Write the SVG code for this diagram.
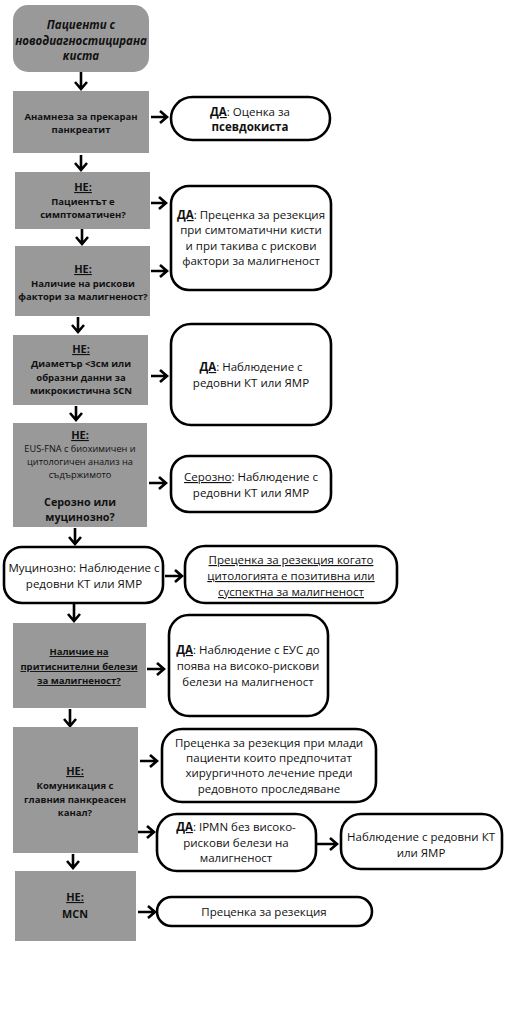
<svg xmlns="http://www.w3.org/2000/svg" width="528" height="1013" viewBox="0 0 528 1013">
<defs>
<style>
.g{fill:#999999;stroke:none}
.w{fill:#ffffff;stroke:#000;stroke-width:2.6}
.c{stroke:#000;stroke-width:2.6;fill:none}
text{font-family:"Open Sans","DejaVu Sans",sans-serif;fill:#111;text-anchor:middle}
.b{font-size:9.5px;font-weight:bold}
.h{font-size:11px;font-weight:bold;text-decoration:underline}
.n{font-size:9.2px}
.t{font-size:11.5px;font-weight:bold;font-style:italic}
.r{font-size:11.5px}
.s{font-size:10.8px;font-weight:bold}
.u{text-decoration:underline}
.k{font-weight:bold}
</style>
</defs>
<rect width="528" height="1013" fill="#fff"/>

<g id="connectors">
<path class="c" d="M81,72 V88 M75,82 L81,89 L87,82"/>
<path class="c" d="M151,117 H167 M160,111 L167,117 L160,123"/>
<path class="c" d="M81,155 V170 M75,163 L81,170 L87,163"/>
<path class="c" d="M151,203 H166 M159,197 L166,203 L159,209"/>
<path class="c" d="M82,229 V244 M76,237 L82,244 L88,237"/>
<path class="c" d="M151,271 H167 M160,265 L167,271 L160,277"/>
<path class="c" d="M78,317 V332 M72,325 L78,332 L84,325"/>
<path class="c" d="M151,376 H167 M160,370 L167,376 L160,382"/>
<path class="c" d="M76,406 V420 M70,413 L76,420 L82,413"/>
<path class="c" d="M149,483 H166 M159,477 L166,483 L159,489"/>
<path class="c" d="M75,528 V544 M69,537 L75,544 L81,537"/>
<path class="c" d="M165,576 H182 M175,570 L182,576 L175,582"/>
<path class="c" d="M74,604 V621 M68,614 L74,621 L80,614"/>
<path class="c" d="M147,669 H164 M157,663 L164,669 L157,675"/>
<path class="c" d="M70,709 V726 M64,719 L70,726 L76,719"/>
<path class="c" d="M140,761 H157 M150,755 L157,761 L150,767"/>
<path class="c" d="M137,832 H154 M147,826 L154,832 L147,838"/>
<path class="c" d="M317,844 H337 M330,838 L337,844 L330,850"/>
<path class="c" d="M73,854 V868 M67,861 L73,868 L79,861"/>
<path class="c" d="M138,912 H155 M148,906 L155,912 L148,918"/>
</g>

<g id="n1">
<rect class="g" x="13" y="5" width="136" height="67" rx="15"/>
<text class="t" x="81" y="29">Пациенти с</text>
<text class="t" x="81" y="45">новодиагностицирана</text>
<text class="t" x="81" y="60">киста</text>
</g>

<g id="n2">
<rect class="g" x="13" y="91" width="136" height="62"/>
<text class="b" x="81" y="120">Анамнеза за прекаран</text>
<text class="b" x="81" y="133">панкреатит</text>
</g>
<g id="n2y">
<rect class="w" x="171" y="97" width="159" height="43" rx="21.5"/>
<text class="r" x="250" y="116"><tspan class="k u">ДА</tspan>: Оценка за</text>
<text class="r k" x="250" y="131">псевдокиста</text>
</g>

<g id="n3">
<rect class="g" x="15" y="172" width="135" height="57"/>
<text class="h" x="83" y="191">НЕ:</text>
<text class="b" x="83" y="205">Пациентът е</text>
<text class="b" x="83" y="218">симптоматичен?</text>
</g>

<g id="n4">
<rect class="g" x="15" y="246" width="135" height="70"/>
<text class="h" x="83" y="273">НЕ:</text>
<text class="b" x="83" y="287">Наличие на рискови</text>
<text class="b" x="83" y="300">фактори за малигненост?</text>
</g>
<g id="n34y">
<rect class="w" x="171" y="186" width="160" height="104" rx="18"/>
<text class="r" x="251" y="219"><tspan class="k u">ДА</tspan>: Преценка за резекция</text>
<text class="r" x="251" y="234">при симтоматични кисти</text>
<text class="r" x="251" y="250">и при такива с рискови</text>
<text class="r" x="251" y="265">фактори за малигненост</text>
</g>

<g id="n5">
<rect class="g" x="13" y="335" width="135" height="70"/>
<text class="h" x="81" y="353">НЕ:</text>
<text class="b" x="81" y="367">Диаметър &lt;3см или</text>
<text class="b" x="81" y="381">образни данни за</text>
<text class="b" x="81" y="394">микрокистична SCN</text>
</g>
<g id="n5y">
<rect class="w" x="171" y="324" width="160" height="101" rx="20"/>
<text class="r" x="251" y="371"><tspan class="k u">ДА</tspan>: Наблюдение с</text>
<text class="r" x="251" y="387">редовни КТ или ЯМР</text>
</g>

<g id="n6">
<rect class="g" x="13" y="423" width="134" height="104"/>
<text class="h" x="80" y="439">НЕ:</text>
<text class="n" x="80" y="452">EUS-FNA с биохимичен и</text>
<text class="n" x="80" y="465">цитологичен анализ на</text>
<text class="n" x="80" y="478">съдържимото</text>
<text class="s" x="80" y="506">Серозно или</text>
<text class="s" x="80" y="521">муцинозно?</text>
</g>
<g id="n6s">
<rect class="w" x="171" y="456" width="160" height="56" rx="18"/>
<text class="r" x="251" y="481"><tspan class="u">Серозно</tspan>: Наблюдение с</text>
<text class="r" x="251" y="497">редовни КТ или ЯМР</text>
</g>

<g id="n7">
<rect class="w" x="4" y="547" width="159" height="56" rx="18"/>
<text class="r" x="84" y="572">Муцинозно: Наблюдение с</text>
<text class="r" x="84" y="588">редовни КТ или ЯМР</text>
</g>
<g id="n7r">
<rect class="w" x="185" y="546" width="212" height="57" rx="20"/>
<text class="r u" x="291" y="564">Преценка за резекция когато</text>
<text class="r u" x="291" y="580">цитологията е позитивна или</text>
<text class="r u" x="291" y="596">суспектна за малигненост</text>
</g>

<g id="n8">
<rect class="g" x="13" y="623" width="133" height="85"/>
<text class="b u" x="79" y="655">Наличие на</text>
<text class="b u" x="79" y="670">притиснителни белези</text>
<text class="b u" x="79" y="684">за малигненост?</text>
</g>
<g id="n8y">
<rect class="w" x="169" y="615" width="159" height="101" rx="20"/>
<text class="r" x="248" y="654"><tspan class="k u">ДА</tspan>: Наблюдение с ЕУС до</text>
<text class="r" x="248" y="670">поява на високо-рискови</text>
<text class="r" x="248" y="686">белези на малигненост</text>
</g>

<g id="n9">
<rect class="g" x="13" y="727" width="125" height="126"/>
<text class="h" x="75" y="775">НЕ:</text>
<text class="b" x="75" y="789">Комуникация с</text>
<text class="b" x="75" y="803">главния панкреасен</text>
<text class="b" x="75" y="816">канал?</text>
</g>
<g id="n9a">
<rect class="w" x="162" y="729" width="214" height="73" rx="20"/>
<text class="r" x="269" y="747">Преценка за резекция при млади</text>
<text class="r" x="269" y="762">пациенти които предпочитат</text>
<text class="r" x="269" y="777">хирургичното лечение преди</text>
<text class="r" x="269" y="793">редовното проследяване</text>
</g>
<g id="n9y">
<rect class="w" x="157" y="814" width="159" height="57" rx="20"/>
<text class="r" x="236" y="831"><tspan class="k u">ДА</tspan>: IPMN без високо-</text>
<text class="r" x="236" y="847">рискови белези на</text>
<text class="r" x="236" y="862">малигненост</text>
</g>
<g id="n9z">
<rect class="w" x="341" y="814" width="161" height="55" rx="20"/>
<text class="r" x="421" y="841">Наблюдение с редовни КТ</text>
<text class="r" x="421" y="857">или ЯМР</text>
</g>

<g id="n10">
<rect class="g" x="15" y="871" width="121" height="70"/>
<text class="h" x="75" y="901">НЕ:</text>
<text class="s" x="75" y="918">MCN</text>
</g>
<g id="n10r">
<rect class="w" x="157" y="897" width="215" height="29" rx="14.5"/>
<text class="r" x="264" y="916">Преценка за резекция</text>
</g>
</svg>
